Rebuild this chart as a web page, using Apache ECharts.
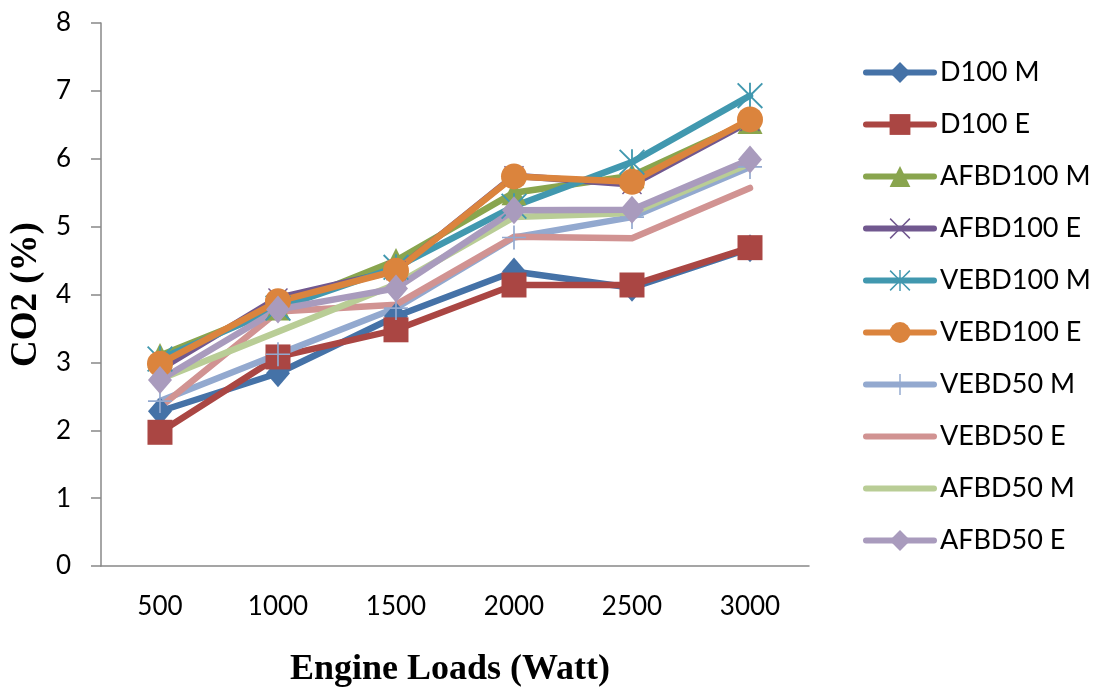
<!DOCTYPE html>
<html>
<head>
<meta charset="utf-8">
<script src="https://cdn.jsdelivr.net/npm/echarts@6/dist/echarts.min.js"></script>
<style>
  html, body { margin: 0; padding: 0; background: #fff; }
  #chart { width: 1100px; height: 695px; }
</style>
</head>
<body>
<div id="chart"></div>
<script>
// Engine load categories (Watt)
const loads = ['500', '1000', '1500', '2000', '2500', '3000'];

// CO2 (%) for each fuel / mode
const d100M    = [2.28, 2.84, 3.68, 4.34, 4.10, 4.68];
const d100E    = [1.97, 3.08, 3.48, 4.14, 4.14, 4.69];
const afbd100M = [3.10, 3.80, 4.50, 5.50, 5.75, 6.55];
const afbd100E = [2.90, 3.95, 4.35, 5.75, 5.62, 6.55];
const vebd100M = [3.05, 3.80, 4.40, 5.30, 5.95, 6.93];
const vebd100E = [2.98, 3.90, 4.35, 5.74, 5.66, 6.58];
const vebd50M  = [2.43, 3.12, 3.80, 4.84, 5.14, 5.88];
const vebd50E  = [2.34, 3.75, 3.85, 4.85, 4.83, 5.57];
const afbd50M  = [2.75, 3.45, 4.15, 5.14, 5.20, 5.93];
const afbd50E  = [2.74, 3.78, 4.09, 5.24, 5.25, 5.99];

// Marker shapes drawn as thin filled strokes
const crossX = 'path://M1,0 L10,9 L19,0 L20,1 L11,10 L20,19 L19,20 L10,11 L1,20 L0,19 L9,10 L0,1 Z';
const asterisk = 'path://M1,0 L10,9 L19,0 L20,1 L11,10 L20,19 L19,20 L10,11 L1,20 L0,19 L9,10 L0,1 Z M9.3,0 L10.7,0 L10.7,20 L9.3,20 Z';
const plus = 'path://M9.3,0 L10.7,0 L10.7,9.3 L20,9.3 L20,10.7 L10.7,10.7 L10.7,20 L9.3,20 L9.3,10.7 L0,10.7 L0,9.3 L9.3,9.3 Z';

function makeSeries(name, data, color, symbol, size) {
  const plain = symbol === 'none';
  return {
    name: name,
    type: 'line',
    data: data,
    symbol: plain ? 'circle' : symbol,
    symbolSize: plain ? 0 : size,
    showSymbol: !plain,
    lineStyle: { color: color, width: 6.5, cap: 'round', join: 'round' },
    // plain lines keep an invisible marker so the legend shows only the line
    itemStyle: { color: plain ? 'rgba(0,0,0,0)' : color },
    emphasis: { disabled: true }
  };
}

const series = [
  makeSeries('D100 M', d100M, '#4572a7', 'diamond', [24, 28]),
  makeSeries('D100 E', d100E, '#aa4643', 'rect', 25),
  makeSeries('AFBD100 M', afbd100M, '#89a54e', 'triangle', 25),
  makeSeries('AFBD100 E', afbd100E, '#71588f', crossX, 20),
  makeSeries('VEBD100 M', vebd100M, '#4198af', asterisk, 26),
  makeSeries('VEBD100 E', vebd100E, '#db843d', 'circle', 26),
  makeSeries('VEBD50 M', vebd50M, '#93a9cf', plus, 24),
  makeSeries('VEBD50 E', vebd50E, '#d19392', 'none', 0),
  makeSeries('AFBD50 M', afbd50M, '#b9cd96', 'none', 0),
  makeSeries('AFBD50 E', afbd50E, '#a99bbd', 'diamond', [24, 28])
];

const labelFont = 'Lato, "Open Sans", sans-serif';
const titleFont = '"Liberation Serif", "Times New Roman", serif';

const chart = echarts.init(document.getElementById('chart'), null, { renderer: 'canvas' });
chart.setOption({
  animation: false,
  backgroundColor: '#ffffff',
  grid: { left: 99, right: 291, top: 23, bottom: 129, containLabel: false },
  legend: {
    orient: 'vertical',
    left: 858,
    top: 54,
    itemWidth: 68,
    itemHeight: 26,
    itemGap: 25,
    lineStyle: { width: 6, cap: 'round' },
    textStyle: { fontFamily: labelFont, fontSize: 27, color: '#000', padding: [0, 0, 0, 1] },
    data: series.map(s => s.name)
  },
  xAxis: {
    type: 'category',
    data: loads,
    boundaryGap: true,
    axisLine: { lineStyle: { color: '#888', width: 1.5 } },
    axisTick: { show: false },
    axisLabel: { color: '#000', fontSize: 26, fontFamily: labelFont, margin: 28 },
    name: 'Engine Loads (Watt)',
    nameLocation: 'middle',
    nameGap: 86,
    nameTextStyle: { fontFamily: titleFont, fontWeight: 'bold', fontSize: 36, color: '#000', padding: [0, 10, 0, 0] }
  },
  yAxis: {
    type: 'value',
    min: 0,
    max: 8,
    interval: 1,
    axisLine: { show: true, lineStyle: { color: '#888', width: 1.5 } },
    axisTick: { show: true, length: 10, lineStyle: { color: '#888', width: 1.5 } },
    splitLine: { show: false },
    axisLabel: { color: '#000', fontSize: 26, fontFamily: labelFont, margin: 30 },
    name: 'CO2 (%)',
    nameLocation: 'middle',
    nameGap: 55,
    nameRotate: 90,
    nameTextStyle: { fontFamily: titleFont, fontWeight: 'bold', fontSize: 37, color: '#000' }
  },
  series: series
});
</script>
</body>
</html>
